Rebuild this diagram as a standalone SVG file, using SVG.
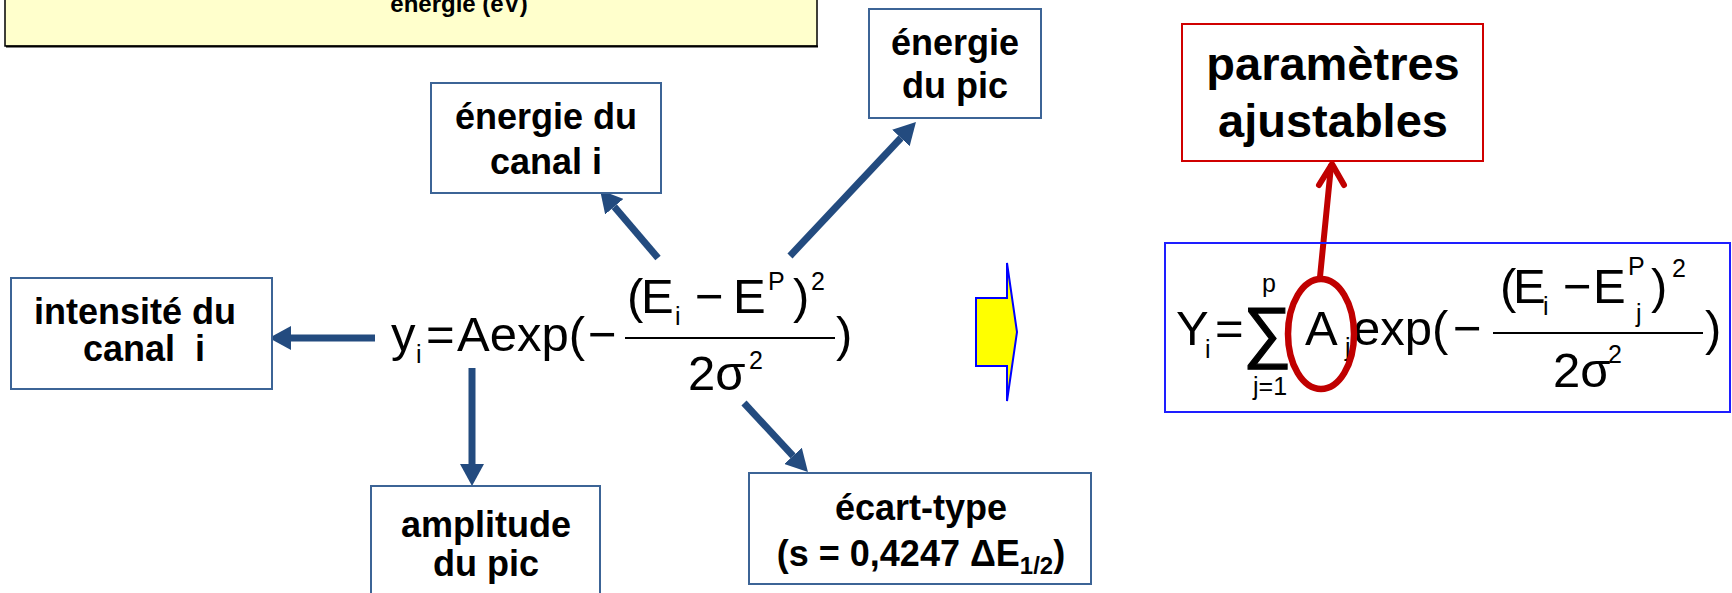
<svg xmlns="http://www.w3.org/2000/svg" width="1732" height="593" viewBox="0 0 1732 593">
<defs>
<style>
.box{fill:#fff;stroke:#3C6496;stroke-width:2}
.lbl{font-family:"Liberation Sans",Arial,sans-serif;font-weight:bold;font-size:36px;fill:#000;text-anchor:middle}
.big{font-size:47px}
.eq{font-family:"Liberation Sans",Arial,sans-serif;font-size:49px;fill:#000}
.sig{font-size:68px;stroke:#000;stroke-width:1.2}
.sb{font-family:"Liberation Sans",Arial,sans-serif;font-size:25px;fill:#000}
.conn{stroke:#234B7F;stroke-width:7;fill:none}
.frac{stroke:#000;stroke-width:2.2}
</style>
<marker id="ah" markerUnits="userSpaceOnUse" viewBox="0 -12 22 24" refX="0" refY="0" markerWidth="22" markerHeight="24" orient="auto">
<path d="M0,-12 L22,0 L0,12 z" fill="#234B7F"/>
</marker>
</defs>
<rect width="1732" height="593" fill="#fff"/>

<g id="title">
<rect x="5" y="-20" width="812" height="66" fill="#FFFFCC" stroke="#000" stroke-width="1.5"/>
<line x1="6" y1="46.5" x2="818" y2="46.5" stroke="#000" stroke-width="2"/>
<text x="459" y="12" font-family="Liberation Sans,Arial,sans-serif" font-weight="bold" font-size="24" text-anchor="middle">énergie (eV)</text>
</g>

<g id="connectors">
<line class="conn" x1="375" y1="338" x2="291" y2="338" marker-end="url(#ah)"/>
<line class="conn" x1="472" y1="368" x2="472" y2="464" marker-end="url(#ah)"/>
<line class="conn" x1="658" y1="258" x2="614.3" y2="206.7" marker-end="url(#ah)"/>
<line class="conn" x1="790" y1="256" x2="900.9" y2="138" marker-end="url(#ah)"/>
<line class="conn" x1="744" y1="403" x2="793" y2="455.9" marker-end="url(#ah)"/>
<line x1="1320" y1="277" x2="1331" y2="166" stroke="#C00000" stroke-width="6" stroke-linecap="round"/>
<polyline points="1319,185 1332,164 1344,185" fill="none" stroke="#C00000" stroke-width="6" stroke-linecap="round" stroke-linejoin="round"/>
</g>

<g id="node-intensite">
<rect class="box" x="11" y="278" width="261" height="111"/>
<text class="lbl" x="135" y="324">intensité du</text>
<text class="lbl" x="144" y="361" xml:space="preserve">canal  i</text>
</g>

<g id="node-energie-canal">
<rect class="box" x="431" y="83" width="230" height="110"/>
<text class="lbl" x="546" y="129">énergie du</text>
<text class="lbl" x="546" y="174">canal i</text>
</g>

<g id="node-energie-pic">
<rect class="box" x="869" y="9" width="172" height="109"/>
<text class="lbl" x="955" y="55">énergie</text>
<text class="lbl" x="955" y="98">du pic</text>
</g>

<g id="node-amplitude">
<rect class="box" x="371" y="486" width="229" height="120"/>
<text class="lbl" x="486" y="537">amplitude</text>
<text class="lbl" x="486" y="576">du pic</text>
</g>

<g id="node-ecart">
<rect class="box" x="749" y="473" width="342" height="111"/>
<text class="lbl" x="921" y="520">écart-type</text>
<text class="lbl" x="921" y="566">(s = 0,4247 ΔE<tspan font-size="24" dy="8">1/2</tspan><tspan dy="-8">)</tspan></text>
</g>

<g id="formula-left">
<text class="eq" x="391" y="351">y</text>
<text class="sb" x="416" y="363">i</text>
<text class="eq" x="426" y="351">=</text>
<text class="eq" x="457" y="351">Aexp(</text>
<text class="eq" x="588" y="351">−</text>
<text class="eq" x="627" y="313">(</text>
<text class="eq" x="641" y="313">E</text>
<text class="sb" x="675" y="325">i</text>
<text class="eq" x="695" y="313">−</text>
<text class="eq" x="733" y="313">E</text>
<text class="sb" x="768" y="290">P</text>
<text class="eq" x="793" y="313">)</text>
<text class="sb" x="811" y="290">2</text>
<line class="frac" x1="625" y1="338" x2="835" y2="338"/>
<text class="eq" x="688" y="390">2σ</text>
<text class="sb" x="749" y="369">2</text>
<text class="eq" x="836" y="351">)</text>
</g>

<g id="block-arrow">
<path d="M976,298 L1007,298 L1007,263 L1017,332 L1007,401 L1007,366 L976,366 z" fill="#FFFF00" stroke="#0000FF" stroke-width="2"/>
</g>

<g id="node-parametres">
<rect x="1182" y="24" width="301" height="137" fill="#fff" stroke="#D00000" stroke-width="2"/>
<text class="lbl big" x="1333" y="80">paramètres</text>
<text class="lbl big" x="1333" y="137">ajustables</text>
</g>

<g id="formula-right">
<rect x="1165" y="243" width="565" height="169" fill="none" stroke="#1E1EFF" stroke-width="2"/>
<text class="eq" x="1176" y="345">Y</text>
<text class="sb" x="1205" y="358">i</text>
<text class="eq" x="1215" y="345">=</text>
<text class="eq sig" x="1243" y="355">∑</text>
<text class="sb" x="1262" y="292">p</text>
<text class="sb" x="1253" y="395">j=1</text>
<text class="eq" x="1305" y="345">A</text>
<text class="sb" x="1345" y="356">j</text>
<text class="eq" x="1353" y="345">exp(</text>
<text class="eq" x="1453" y="345">−</text>
<text class="eq" x="1500" y="303">(</text>
<text class="eq" x="1513" y="303">E</text>
<text class="sb" x="1543" y="315">i</text>
<text class="eq" x="1563" y="303">−</text>
<text class="eq" x="1593" y="303">E</text>
<text class="sb" x="1628" y="275">P</text>
<text class="sb" x="1636" y="322">j</text>
<text class="eq" x="1651" y="303">)</text>
<text class="sb" x="1672" y="277">2</text>
<line class="frac" x1="1493" y1="333" x2="1703" y2="333"/>
<text class="eq" x="1553" y="387">2σ</text>
<text class="sb" x="1608" y="363">2</text>
<text class="eq" x="1705" y="345">)</text>
<ellipse cx="1321" cy="334" rx="33" ry="55" fill="none" stroke="#C00000" stroke-width="6.5"/>
</g>
</svg>
